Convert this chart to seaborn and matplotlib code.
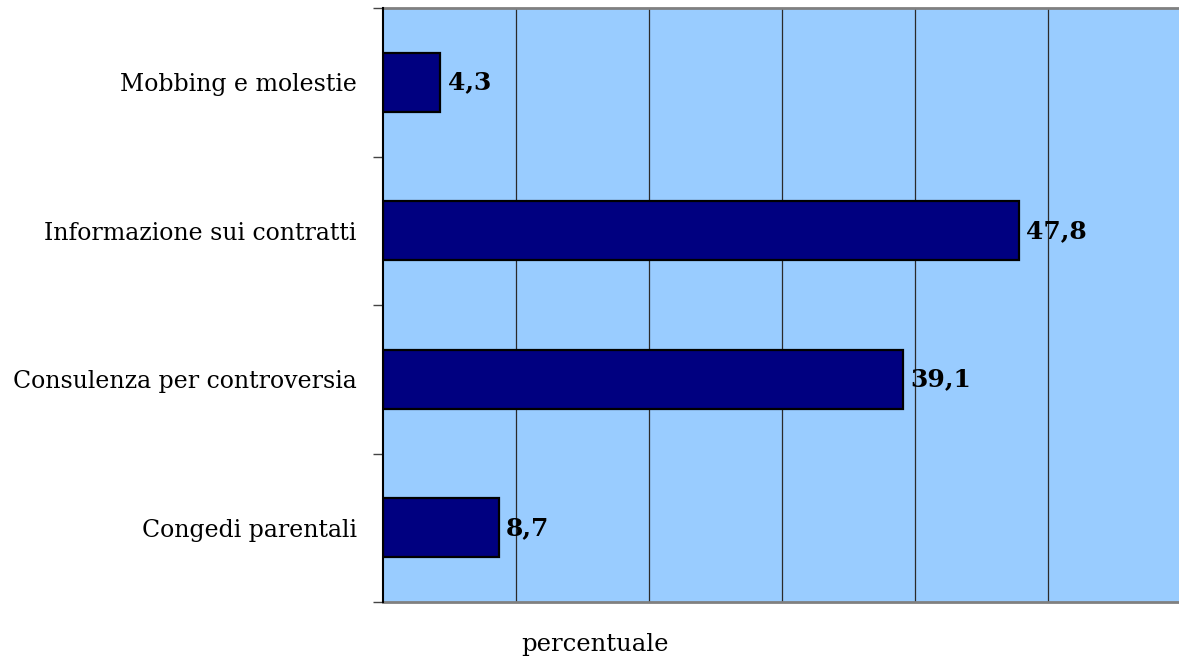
import matplotlib
matplotlib.use("Agg")
import matplotlib.pyplot as plt
import seaborn as sns
import pandas as pd

categories = ["Mobbing e molestie", "Informazione sui contratti",
              "Consulenza per controversia", "Congedi parentali"]
values = [4.3, 47.8, 39.1, 8.7]
value_labels = ["4,3", "47,8", "39,1", "8,7"]

sns.set_theme(style="white")
plt.rcParams["font.family"] = ["DejaVu Serif"]
plt.rcParams["text.color"] = "black"
plt.rcParams["ytick.color"] = "black"
plt.rcParams["ytick.labelcolor"] = "black"

df = pd.DataFrame({"categoria": categories, "percentuale": values})

fig = plt.figure(figsize=(11.79, 6.64), dpi=100)
ax = fig.add_axes([383 / 1179, 62 / 664, 798 / 1179, 594 / 664])
ax.set_facecolor("#99CCFF")

sns.barplot(data=df, x="percentuale", y="categoria", orient="h",
            color="#000080", width=0.4, edgecolor="black", linewidth=1.6,
            saturation=1, ax=ax)

ax.set_xlim(0, 60)
ax.set_ylim(3.5, -0.5)
for xv in range(10, 60, 10):
    ax.axvline(xv, color="#2a2a2a", linewidth=0.9, zorder=0)

for i, (v, lab) in enumerate(zip(values, value_labels)):
    ax.text(v + 0.55, i, lab, va="center", ha="left", fontsize=18,
            fontweight="bold", color="black")

ax.set_xticks([])
ax.set_yticks(range(len(categories)))
ax.set_yticklabels(categories, fontsize=17, color="black")
ax.tick_params(axis="y", which="major", left=False, length=0, pad=19)
ax.set_yticks([-0.5, 0.5, 1.5, 2.5, 3.5], minor=True)
ax.tick_params(axis="y", which="minor", left=True, length=7, width=1,
               color="#444444", direction="out")
ax.set_xlabel("")
ax.set_ylabel("")

for side in ["top", "bottom"]:
    ax.spines[side].set_color("#808080")
    ax.spines[side].set_linewidth(2)
ax.spines["left"].set_color("black")
ax.spines["left"].set_linewidth(1.5)
ax.spines["left"].set_zorder(5)
ax.spines["right"].set_visible(False)

fig.text(595 / 1179, 1 - 645 / 664, "percentuale", ha="center", va="center",
         fontsize=17.5, color="black")

fig.savefig("out.png", dpi=100, facecolor="white")
